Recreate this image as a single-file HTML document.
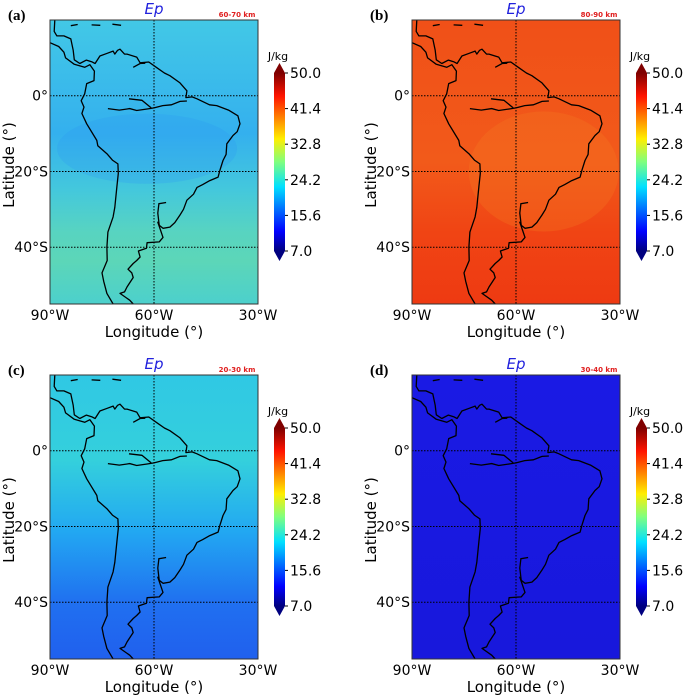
<!DOCTYPE html>
<html><head><meta charset="utf-8">
<style>
html,body{margin:0;padding:0;background:#fff;width:685px;height:695px;overflow:hidden}
svg text{font-family:"DejaVu Sans","Liberation Sans",sans-serif}
svg text.letter{font-family:"Liberation Serif",serif;font-weight:bold}
</style></head>
<body>
<svg id="fig" width="685" height="695" viewBox="0 0 685 695" xmlns="http://www.w3.org/2000/svg">
<defs>
<clipPath id="mclip"><rect x="0" y="0" width="208" height="284"/></clipPath>
<linearGradient id="jet" x1="0" y1="1" x2="0" y2="0">
<stop offset="0" stop-color="#00007f"/><stop offset="0.11" stop-color="#0000ff"/>
<stop offset="0.36" stop-color="#00e0ff"/><stop offset="0.5" stop-color="#7fff7f"/>
<stop offset="0.63" stop-color="#ffee00"/><stop offset="0.87" stop-color="#ff1400"/>
<stop offset="1" stop-color="#7f0000"/>
</linearGradient>
<linearGradient id="gA" x1="0" y1="0" x2="0" y2="1">
<stop offset="0" stop-color="#42c8e6"/><stop offset="0.4" stop-color="#34b0ee"/>
<stop offset="0.6" stop-color="#44c8dc"/><stop offset="0.75" stop-color="#58d4c0"/>
<stop offset="0.85" stop-color="#5cd6b8"/><stop offset="1" stop-color="#4cd0cc"/>
</linearGradient>
<linearGradient id="gB" x1="0" y1="0" x2="0" y2="1">
<stop offset="0" stop-color="#f05018"/><stop offset="0.5" stop-color="#f25a1a"/>
<stop offset="0.75" stop-color="#f04414"/><stop offset="1" stop-color="#ee3a12"/>
</linearGradient>
<linearGradient id="gC" x1="0" y1="0" x2="0" y2="1">
<stop offset="0" stop-color="#30c8e4"/><stop offset="0.3" stop-color="#34d0dc"/>
<stop offset="0.55" stop-color="#22a8f2"/><stop offset="0.8" stop-color="#2070f0"/>
<stop offset="1" stop-color="#2060ee"/>
</linearGradient>
<linearGradient id="gD" x1="0" y1="0" x2="0" y2="1">
<stop offset="0" stop-color="#1a1ae4"/><stop offset="1" stop-color="#1818dc"/>
</linearGradient>
</defs>
</svg>
<script>
// ---- data ----
const panelLetters = ['(a)','(b)','(c)','(d)'];
const panelKm = ['60-70 km','80-90 km','20-30 km','30-40 km'];
const panelFill = ['gA','gB','gC','gD'];
const lonTicks = [-90,-60,-30];
const lonLabels = ['90°W','60°W','30°W'];
const latTicks = [0,-20,-40];
const latLabels = ['0°','20°S','40°S'];
const cbTicks = [50.0,41.4,32.8,24.2,15.6,7.0];
const coast = [[-88.6,20.5],[-88.8,17],[-88,15.8],[-86,15.8],[-84,15],[-83.3,12],[-83,9.5],[-81.4,8.5],[-79.5,9.4],[-78,9],[-77,8.5],[-75.6,10.5],[-73.5,11.2],[-71.8,11.8],[-71.3,11],[-70.5,12],[-69.8,12.3],[-68.5,11],[-67.8,11],[-65,10.2],[-64,8.7],[-61.5,8.9],[-59.2,7.4],[-57,6],[-55.4,5.3],[-52.5,3.4],[-50.5,1.3],[-50.8,-0.5],[-49,-0.3],[-47.6,-0.8],[-44,-2.4],[-41.9,-2.6],[-38.5,-3.8],[-35.8,-5.3],[-35.2,-7.4],[-36,-9.5],[-37.2,-10.5],[-39,-12.7],[-39.2,-15.5],[-40.1,-17.1],[-41,-19.7],[-41.5,-21.5],[-43.9,-22.4],[-46,-23.5],[-47.6,-24.2],[-48.6,-26],[-50.5,-27.6],[-51.5,-30],[-52.5,-31.5],[-54,-33.5],[-55.4,-34.7],[-57.4,-35],[-58.5,-34.2],[-58.9,-33.4],[-58.4,-34.7],[-57.4,-37.4],[-58.5,-38.6],[-62,-38.8],[-62.2,-40.3],[-64.5,-41],[-64,-42.6],[-65,-43.5],[-66,-44.3],[-67.5,-45.8],[-66.4,-46.8],[-66,-48],[-67.8,-50.5],[-68.5,-51.8],[-69.8,-52.2],[-67,-54],[-66,-55],[-71.8,-55],[-73.6,-52.2],[-74.5,-49],[-75,-46.8],[-73.5,-43.5],[-73.6,-40],[-73.3,-36],[-71.8,-32],[-71.3,-29.5],[-70.7,-24],[-70.3,-20.5],[-70.4,-18],[-72,-17],[-73.6,-15.3],[-76.2,-13.2],[-76.5,-11.8],[-79.4,-7.4],[-80.8,-4.7],[-80.2,-3],[-81,-1.3],[-80,0.5],[-79.4,3.2],[-77.3,4],[-77.2,6.5],[-78.5,8.2],[-80,7.5],[-81,7.8],[-83,8.3],[-85.5,10],[-86,11.5],[-87.5,13],[-90,14]];
const river1 = [[-73.3,-3.4],[-70,-3.8],[-67,-3.4],[-65,-3.9],[-62,-3.5],[-60,-3.2],[-57.5,-2.6],[-55,-2.4],[-52.5,-1.5],[-50.5,-1.4]];
const river2 = [[-67.2,-0.8],[-63.5,-1.2],[-60.8,-3.2]];
const river3 = [[-66,7.5],[-64,8.5],[-62.5,8.6]];
const plata = [[-58.5,-34.2],[-58.9,-31],[-58.6,-28.5],[-56.5,-28.2]];
const islands = [[[-84,18.5],[-82,18.8]],[[-78,18.7],[-75.5,18.6]],[[-72,18.9],[-69.5,18.6]]];

// ---- scales ----
const NS='http://www.w3.org/2000/svg';
const svg=document.getElementById('fig');
function el(tag,attrs,parent,txt){const e=document.createElementNS(NS,tag);for(const k in attrs)e.setAttribute(k,attrs[k]);if(txt!==undefined)e.textContent=txt;(parent||svg).appendChild(e);return e;}
const MW=208, MH=284;
function xs(lon){return (lon+90)/60*MW;}
function ys(lat){return (20-lat)/75*MH;}
function cbY(v){return 73+(50-v)/43*178;}
function path(pts){return pts.map((p,i)=>(i?'L':'M')+xs(p[0]).toFixed(1)+','+ys(p[1]).toFixed(1)).join('');}

const offs=[[0,0],[362,0],[0,355],[362,355]];
offs.forEach((o,i)=>{
  const g=el('g',{transform:'translate('+o[0]+','+o[1]+')'});
  
  
  const t=el('text',{x:8,y:20,'class':'letter','font-size':15},g,panelLetters[i]);
  
  const ep=el('text',{x:50+MW/2,y:14,'text-anchor':'middle','font-style':'italic','font-size':15,fill:'#2222dd'},g,'Ep');
  
  const km=el('text',{x:237,y:17,'text-anchor':'middle','font-weight':'bold','font-size':7,fill:'#e02020'},g,panelKm[i]);
  
  const m=el('g',{transform:'translate(50,20)'},g);
  
  const mc=el('g',{'clip-path':'url(#mclip)'},m);
  const bg=el('rect',{x:0,y:0,width:MW,height:MH,fill:'url(#'+panelFill[i]+')'},mc);
  
  if(i===0){const r=el('ellipse',{cx:xs(-62),cy:ys(-14),rx:90,ry:35,fill:'#2a98f2',opacity:0.25},mc);}
  if(i===1){const r=el('ellipse',{cx:xs(-52),cy:ys(-20),rx:75,ry:60,fill:'#f47a20',opacity:0.3},mc);}
  lonTicks.forEach((v,j)=>{
    if(j===1){const l=el('line',{x1:xs(v),y1:0,x2:xs(v),y2:MH,stroke:'#000','stroke-width':1,'stroke-dasharray':'1.5,1.5'},mc);}
    const tl=el('text',{x:50+xs(v),y:320,'text-anchor':'middle','font-size':14},g,lonLabels[j]);
    
  });
  latTicks.forEach((v,j)=>{
    const l=el('line',{x1:0,y1:ys(v),x2:MW,y2:ys(v),stroke:'#000','stroke-width':1,'stroke-dasharray':'1.5,1.5'},mc);
    
    const tl=el('text',{x:48,y:20+ys(v)+5,'text-anchor':'end','font-size':14},g,latLabels[j]);
    
  });
  const c=el('path',{d:path(coast),fill:'none',stroke:'#000','stroke-width':1.3,'stroke-linejoin':'round'},mc);
  
  [river1,river2,river3,plata].concat(islands).forEach(r=>{
    const p=el('path',{d:path(r),fill:'none',stroke:'#000','stroke-width':1.3},mc);
    
  });
  const fr=el('rect',{x:0,y:0,width:MW,height:MH,fill:'none',stroke:'#333','stroke-width':1},m);
  
  const xl=el('text',{x:50+MW/2,y:337,'text-anchor':'middle','font-size':15},g,'Longitude (°)');
  
  const yl=el('text',{x:0,y:0,'text-anchor':'middle','font-size':15,transform:'translate(14,165) rotate(-90)'},g,'Latitude (°)');
  
  // colorbar
  const cb=el('g',{},g);
  
  el('rect',{x:274,y:cbY(50),width:11,height:cbY(7)-cbY(50),fill:'url(#jet)'},cb);
  el('path',{d:'M274,'+cbY(50)+'L279.5,'+(cbY(50)-10)+'L285,'+cbY(50)+'Z',fill:'#7f0000'},cb);
  el('path',{d:'M274,'+cbY(7)+'L279.5,'+(cbY(7)+10)+'L285,'+cbY(7)+'Z',fill:'#00007f'},cb);
  const u=el('text',{x:278,y:60,'text-anchor':'middle','font-size':11},g,'J/kg');
  
  cbTicks.forEach(v=>{
    el('line',{x1:285,y1:cbY(v),x2:288,y2:cbY(v),stroke:'#000','stroke-width':1},cb);
    const tl=el('text',{x:290,y:cbY(v)+5,'font-size':14},cb,v.toFixed(1));
    
  });
});
</script>
</body></html>
